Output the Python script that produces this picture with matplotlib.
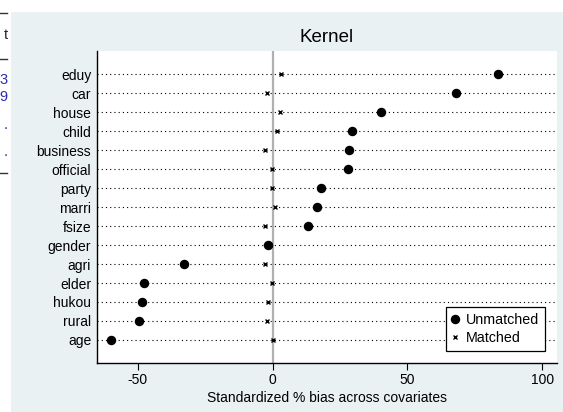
"""Standardized bias plot (Kernel matching)."""

import matplotlib.pyplot as plt
from matplotlib.lines import Line2D
from matplotlib.patches import Rectangle

plt.rcParams["font.family"] = ["Liberation Sans", "DejaVu Sans"]

COVARIATES: list[str] = [
    "eduy", "car", "house", "child", "business", "official", "party", "marri",
    "fsize", "gender", "agri", "elder", "hukou", "rural", "age",
]
UNMATCHED: list[float] = [
    83.7, 68.2, 40.2, 29.4, 28.2, 28.1, 17.9, 16.4,
    13.2, -1.9, -32.9, -47.7, -48.6, -49.6, -60.1,
]
MATCHED: list[float] = [
    3.0, -2.1, 2.7, 1.6, -2.7, -0.1, -0.1, 0.9,
    -2.7, -1.0, -2.7, -0.1, -1.6, -2.0, 0.0,
]
X_TICKS: list[int] = [-50, 0, 50, 100]

BG_COLOR = "#eaf1f3"
W, H = 563, 412


def main() -> None:
    fig = plt.figure(figsize=(W / 100, H / 100), dpi=100)
    fig.patch.set_facecolor("white")

    # background panel of the graph region (left strip belongs to a neighbouring table)
    fig.add_artist(Rectangle((11 / W, 0), 1 - 11 / W, 1 - 12 / H, transform=fig.transFigure,
                             facecolor=BG_COLOR, edgecolor="none", zorder=-5))
    for y in (13, 59, 173):
        fig.add_artist(Line2D([0, 7 / W], [1 - y / H, 1 - y / H], color="#333333", lw=1.0))
    fig.text(8 / W, 1 - 35 / H, "t", ha="right", va="center", fontsize=10.5, color="#222222")
    for y, s in ((80, "3"), (97, "9"), (125, "."), (152, ".")):
        fig.text(8 / W, 1 - y / H, s, ha="right", va="center", fontsize=10.5, color="#2a2aa8")

    ax = fig.add_axes([96.7 / W, 1 - 363.3 / H, (556.7 - 96.7) / W, (363.3 - 50.7) / H])
    ax.set_zorder(1)
    ax.set_facecolor("white")

    n = len(COVARIATES)
    ypos = list(range(n, 0, -1))

    for y in ypos:
        ax.axhline(y, color="black", lw=0.8, ls=(0, (1, 2.8)), zorder=1)
    ax.axvline(0, color="#b0b0b0", lw=1.6, zorder=0.5)

    ax.plot(UNMATCHED, ypos, "o", color="black", markersize=5.8, zorder=3, label="Unmatched")
    ax.plot(MATCHED, ypos, "x", color="black", markersize=3.5, mew=1.0, zorder=3, label="Matched")

    ax.set_xlim(-65.3, 105.4)
    ax.set_ylim(1 - 1.23, n + 1.24)
    ax.set_yticks(ypos)
    ax.set_yticklabels(COVARIATES, fontsize=10)
    ax.set_xticks(X_TICKS)
    ax.set_xticklabels([str(t) for t in X_TICKS], fontsize=10)
    ax.tick_params(axis="y", length=0, pad=4)
    ax.tick_params(axis="x", length=5, width=0.8, pad=2)

    for side in ("top", "right"):
        ax.spines[side].set_visible(False)
    for side in ("left", "bottom"):
        ax.spines[side].set_linewidth(1.0)

    ax.set_xlabel("Standardized % bias across covariates", fontsize=10, labelpad=3)
    ax.set_title("Kernel", fontsize=13.5, pad=6)

    leg = ax.legend(loc="lower right", bbox_to_anchor=(0.99, 0.016), fontsize=10.3, frameon=True,
                    fancybox=False, edgecolor="black", framealpha=1, handlelength=0.5,
                    handletextpad=0.5, borderpad=0.4, labelspacing=0.3)
    leg.get_frame().set_linewidth(0.9)

    fig.savefig("out.png", dpi=100, facecolor=fig.get_facecolor())


if __name__ == "__main__":
    main()
